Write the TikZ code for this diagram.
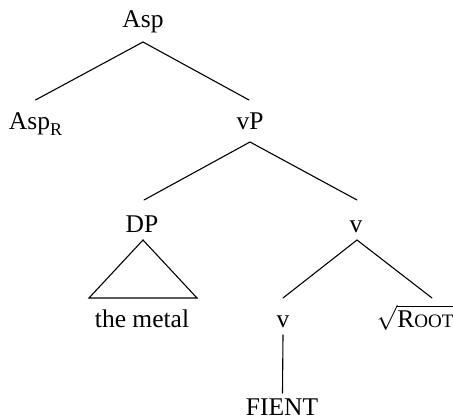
\documentclass[tikz,border=0pt]{standalone}
\usepackage{fontspec}
\setmainfont{Liberation Serif}
\begin{document}
\begin{tikzpicture}[x=1pt,y=-1pt,
  lbl/.style={anchor=base,inner sep=0pt,font=\fontsize{25.5}{30}\selectfont},
  edge/.style={line width=1.1pt,line cap=round}]
\useasboundingbox (0,0) rectangle (453,420);
\node[lbl] (asp)   at (143,28)  {Asp};
\node[lbl] (aspr)  at (35.5,129) {Asp\raisebox{-6pt}{\fontsize{18}{20}\selectfont R}};
\node[lbl] (vp)    at (250,130) {vP};
\node[lbl] (dp)    at (142,232) {DP};
\node[lbl] (vbar)  at (356,232) {v};
\node[lbl] (metal) at (142,327) {the metal};
\node[lbl] (vlow)  at (283,327) {v};
\node[lbl] (root)  at (415,327) {$\sqrt{\mbox{R\fontsize{19}{22}\selectfont OOT}}$};
\node[lbl] (fient) at (282,415) {FIENT};
% connectors
\draw[edge] ([yshift=-14pt]asp.base) -- ([yshift=29pt]aspr.base);
\draw[edge] ([yshift=-14pt]asp.base) -- ([xshift=-1pt,yshift=30pt]vp.base);
\draw[edge] ([yshift=-12pt]vp.base) -- ([xshift=2pt,yshift=32pt]dp.base);
\draw[edge] ([yshift=-12pt]vp.base) -- ([xshift=1pt,yshift=32pt]vbar.base);
\draw[edge] ([xshift=1pt,yshift=-8pt]dp.base) -- ([xshift=-53pt,yshift=-66pt]dp.base)
  -- ([xshift=55pt,yshift=-66pt]dp.base) -- cycle;
\draw[edge] ([xshift=1pt,yshift=-8pt]vbar.base) -- ([yshift=29pt]vlow.base);
\draw[edge] ([xshift=1pt,yshift=-8pt]vbar.base) -- ([xshift=17pt,yshift=29pt]root.base);
\draw[edge] ([yshift=-8pt]vlow.base) -- ([xshift=0.5pt,yshift=22pt]fient.base);
\end{tikzpicture}
\end{document}
